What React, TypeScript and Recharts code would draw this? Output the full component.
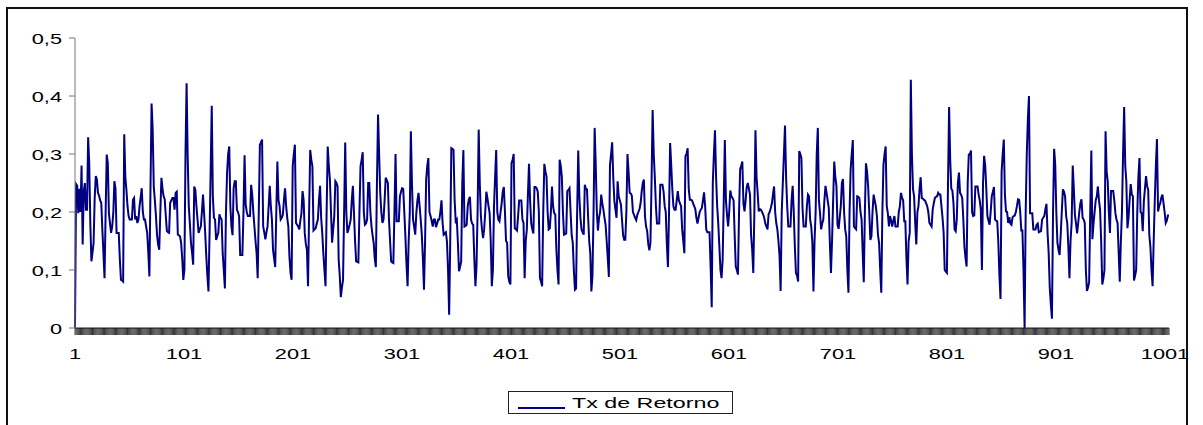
import { LineChart, Line, XAxis, YAxis } from 'recharts'

// Tx de Retorno (1..1001)
const seg0001 = [
  0, 0.248, 0.245, 0.198, 0.24, 0.2, 0.28, 0.144, 0.235, 0.25,
  0.204, 0.204, 0.329, 0.285, 0.181, 0.115, 0.13, 0.147, 0.224, 0.262,
  0.256, 0.233, 0.228, 0.22, 0.216, 0.17, 0.129, 0.086, 0.2, 0.299,
  0.284, 0.198, 0.18, 0.164, 0.175, 0.198, 0.253, 0.241, 0.164, 0.164,
  0.164, 0.118, 0.083, 0.082, 0.08, 0.334, 0.26, 0.238, 0.21, 0.193,
  0.187, 0.187, 0.187, 0.221, 0.224, 0.187, 0.193, 0.181, 0.187, 0.21,
  0.225, 0.241, 0.2, 0.187, 0.187, 0.175, 0.164, 0.13, 0.089, 0.24,
  0.387, 0.342, 0.244, 0.22, 0.193, 0.16, 0.144, 0.135, 0.2, 0.259,
  0.24, 0.227, 0.222, 0.193, 0.167, 0.165, 0.164, 0.216, 0.22, 0.224,
  0.224, 0.204, 0.233, 0.235, 0.161, 0.16, 0.158, 0.147, 0.12, 0.083,
]
const seg0101 = [
  0.1, 0.3, 0.422, 0.296, 0.21, 0.18, 0.147, 0.13, 0.109, 0.244,
  0.238, 0.21, 0.187, 0.164, 0.17, 0.175, 0.2, 0.23, 0.198, 0.164,
  0.124, 0.09, 0.063, 0.164, 0.27, 0.383, 0.227, 0.19, 0.187, 0.152,
  0.158, 0.164, 0.196, 0.19, 0.187, 0.129, 0.1, 0.068, 0.2, 0.267,
  0.3, 0.313, 0.21, 0.175, 0.16, 0.241, 0.253, 0.253, 0.204, 0.2,
  0.193, 0.126, 0.126, 0.126, 0.2, 0.298, 0.213, 0.2, 0.193, 0.193,
  0.193, 0.247, 0.23, 0.2, 0.175, 0.15, 0.129, 0.086, 0.2, 0.316,
  0.32, 0.325, 0.175, 0.165, 0.153, 0.165, 0.175, 0.21, 0.245, 0.21,
  0.187, 0.135, 0.12, 0.105, 0.2, 0.287, 0.221, 0.21, 0.187, 0.19,
  0.195, 0.221, 0.241, 0.21, 0.19, 0.175, 0.124, 0.095, 0.083, 0.279,
]
const seg0201 = [
  0.3, 0.316, 0.181, 0.178, 0.175, 0.17, 0.185, 0.198, 0.236, 0.22,
  0.164, 0.145, 0.135, 0.072, 0.2, 0.307, 0.29, 0.279, 0.168, 0.17,
  0.172, 0.18, 0.187, 0.22, 0.245, 0.19, 0.164, 0.129, 0.1, 0.072,
  0.2, 0.313, 0.28, 0.256, 0.2, 0.147, 0.17, 0.193, 0.253, 0.25,
  0.244, 0.118, 0.09, 0.053, 0.07, 0.083, 0.2, 0.32, 0.2, 0.164,
  0.17, 0.178, 0.187, 0.22, 0.245, 0.198, 0.15, 0.115, 0.114, 0.113,
  0.2, 0.279, 0.29, 0.303, 0.2, 0.178, 0.18, 0.187, 0.25, 0.25,
  0.2, 0.175, 0.16, 0.147, 0.12, 0.105, 0.25, 0.368, 0.3, 0.233,
  0.2, 0.181, 0.187, 0.22, 0.259, 0.255, 0.25, 0.187, 0.15, 0.115,
  0.113, 0.112, 0.2, 0.3, 0.184, 0.184, 0.184, 0.227, 0.235, 0.241,
]
const seg0301 = [
  0.24, 0.2, 0.158, 0.11, 0.072, 0.15, 0.198, 0.339, 0.25, 0.187,
  0.175, 0.161, 0.198, 0.22, 0.233, 0.21, 0.187, 0.161, 0.12, 0.066,
  0.15, 0.256, 0.28, 0.293, 0.2, 0.193, 0.185, 0.175, 0.187, 0.187,
  0.174, 0.18, 0.187, 0.187, 0.2, 0.22, 0.181, 0.161, 0.163, 0.165,
  0.149, 0.1, 0.023, 0.15, 0.31, 0.309, 0.307, 0.22, 0.184, 0.187,
  0.147, 0.098, 0.105, 0.115, 0.25, 0.307, 0.175, 0.176, 0.178, 0.21,
  0.222, 0.226, 0.187, 0.18, 0.178, 0.12, 0.072, 0.106, 0.2, 0.342,
  0.25, 0.193, 0.17, 0.155, 0.17, 0.2, 0.235, 0.224, 0.21, 0.198,
  0.15, 0.072, 0.1, 0.21, 0.26, 0.307, 0.2, 0.187, 0.184, 0.2,
  0.215, 0.235, 0.243, 0.2, 0.15, 0.147, 0.089, 0.08, 0.075, 0.284,
]
const seg0401 = [
  0.29, 0.3, 0.172, 0.17, 0.168, 0.192, 0.22, 0.22, 0.22, 0.187,
  0.181, 0.086, 0.15, 0.17, 0.23, 0.283, 0.22, 0.181, 0.17, 0.163,
  0.243, 0.243, 0.241, 0.235, 0.2, 0.086, 0.08, 0.072, 0.2, 0.283,
  0.27, 0.261, 0.2, 0.17, 0.172, 0.2, 0.244, 0.21, 0.198, 0.196,
  0.136, 0.1, 0.075, 0.29, 0.28, 0.261, 0.2, 0.161, 0.162, 0.163,
  0.236, 0.238, 0.241, 0.2, 0.16, 0.147, 0.1, 0.066, 0.068, 0.2,
  0.306, 0.227, 0.19, 0.17, 0.165, 0.161, 0.247, 0.24, 0.239, 0.193,
  0.15, 0.129, 0.063, 0.09, 0.2, 0.345, 0.28, 0.2, 0.168, 0.19,
  0.2, 0.23, 0.215, 0.204, 0.19, 0.178, 0.15, 0.12, 0.088, 0.28,
  0.3, 0.32, 0.26, 0.22, 0.204, 0.19, 0.253, 0.227, 0.22, 0.213,
]
const seg0501 = [
  0.187, 0.16, 0.152, 0.152, 0.2, 0.3, 0.27, 0.233, 0.232, 0.228,
  0.2, 0.195, 0.19, 0.186, 0.195, 0.2, 0.205, 0.215, 0.235, 0.25,
  0.256, 0.193, 0.175, 0.167, 0.145, 0.134, 0.147, 0.25, 0.376, 0.3,
  0.26, 0.21, 0.18, 0.18, 0.18, 0.247, 0.247, 0.247, 0.235, 0.21,
  0.2, 0.144, 0.105, 0.2, 0.319, 0.28, 0.239, 0.21, 0.204, 0.204,
  0.22, 0.236, 0.22, 0.215, 0.21, 0.17, 0.15, 0.129, 0.296, 0.3,
  0.31, 0.24, 0.221, 0.221, 0.22, 0.215, 0.21, 0.205, 0.19, 0.18,
  0.19, 0.2, 0.204, 0.207, 0.22, 0.234, 0.21, 0.17, 0.165, 0.165,
  0.165, 0.106, 0.036, 0.25, 0.3, 0.341, 0.26, 0.21, 0.18, 0.14,
  0.1, 0.086, 0.118, 0.22, 0.324, 0.22, 0.195, 0.175, 0.2, 0.237,
]
const seg0601 = [
  0.227, 0.224, 0.22, 0.16, 0.106, 0.1, 0.092, 0.2, 0.274, 0.28,
  0.287, 0.215, 0.201, 0.22, 0.243, 0.25, 0.24, 0.23, 0.16, 0.135,
  0.095, 0.2, 0.341, 0.26, 0.233, 0.201, 0.205, 0.204, 0.2, 0.196,
  0.19, 0.18, 0.175, 0.17, 0.196, 0.2, 0.207, 0.215, 0.23, 0.244,
  0.2, 0.181, 0.17, 0.15, 0.124, 0.064, 0.2, 0.25, 0.3, 0.349,
  0.26, 0.21, 0.175, 0.175, 0.175, 0.22, 0.245, 0.2, 0.14, 0.095,
  0.09, 0.08, 0.305, 0.3, 0.293, 0.207, 0.175, 0.175, 0.175, 0.21,
  0.23, 0.227, 0.187, 0.175, 0.147, 0.063, 0.15, 0.2, 0.3, 0.345,
  0.22, 0.198, 0.17, 0.18, 0.187, 0.22, 0.245, 0.233, 0.22, 0.207,
  0.147, 0.095, 0.15, 0.22, 0.287, 0.26, 0.245, 0.178, 0.171, 0.19,
]
const seg0701 = [
  0.21, 0.25, 0.257, 0.2, 0.17, 0.158, 0.1, 0.061, 0.2, 0.274,
  0.3, 0.324, 0.175, 0.172, 0.17, 0.227, 0.226, 0.224, 0.2, 0.187,
  0.13, 0.079, 0.2, 0.284, 0.27, 0.244, 0.2, 0.152, 0.158, 0.2,
  0.23, 0.22, 0.21, 0.193, 0.16, 0.147, 0.1, 0.061, 0.2, 0.282,
  0.3, 0.313, 0.21, 0.198, 0.175, 0.193, 0.185, 0.175, 0.185, 0.193,
  0.175, 0.175, 0.175, 0.2, 0.21, 0.233, 0.225, 0.22, 0.184, 0.184,
  0.12, 0.075, 0.15, 0.164, 0.428, 0.3, 0.24, 0.227, 0.181, 0.144,
  0.2, 0.21, 0.24, 0.26, 0.224, 0.223, 0.221, 0.22, 0.215, 0.21,
  0.2, 0.181, 0.178, 0.175, 0.204, 0.215, 0.224, 0.226, 0.227, 0.233,
  0.23, 0.23, 0.21, 0.19, 0.164, 0.1, 0.097, 0.095, 0.25, 0.381,
]
const seg0801 = [
  0.29, 0.24, 0.237, 0.215, 0.17, 0.167, 0.187, 0.25, 0.268, 0.233,
  0.23, 0.224, 0.187, 0.14, 0.121, 0.106, 0.25, 0.299, 0.3, 0.306,
  0.2, 0.193, 0.194, 0.244, 0.244, 0.244, 0.23, 0.22, 0.204, 0.1,
  0.25, 0.297, 0.28, 0.24, 0.193, 0.185, 0.178, 0.2, 0.227, 0.235,
  0.243, 0.187, 0.185, 0.184, 0.147, 0.09, 0.05, 0.27, 0.3, 0.325,
  0.23, 0.201, 0.2, 0.181, 0.191, 0.18, 0.178, 0.191, 0.193, 0.194,
  0.2, 0.21, 0.222, 0.221, 0.2, 0.168, 0.168, 0.1, 0, 0.2,
  0.3, 0.36, 0.4, 0.198, 0.198, 0.198, 0.17, 0.17, 0.17, 0.178,
  0.18, 0.165, 0.166, 0.167, 0.187, 0.19, 0.193, 0.205, 0.214, 0.164,
  0.13, 0.07, 0.04, 0.016, 0.2, 0.309, 0.282, 0.2, 0.147, 0.135,
]
const seg0901 = [
  0.126, 0.16, 0.2, 0.239, 0.235, 0.227, 0.193, 0.181, 0.14, 0.086,
  0.15, 0.181, 0.28, 0.24, 0.195, 0.18, 0.163, 0.181, 0.2, 0.215,
  0.222, 0.19, 0.187, 0.181, 0.1, 0.064, 0.07, 0.079, 0.2, 0.306,
  0.153, 0.18, 0.2, 0.22, 0.227, 0.244, 0.22, 0.204, 0.15, 0.075,
  0.085, 0.1, 0.339, 0.27, 0.253, 0.2, 0.164, 0.236, 0.236, 0.236,
  0.22, 0.198, 0.187, 0.181, 0.13, 0.08, 0.15, 0.2, 0.3, 0.381,
  0.28, 0.253, 0.172, 0.19, 0.22, 0.248, 0.23, 0.227, 0.082, 0.09,
  0.1, 0.2, 0.26, 0.293, 0.2, 0.198, 0.167, 0.218, 0.24, 0.262,
  0.245, 0.238, 0.16, 0.14, 0.1, 0.072, 0.15, 0.22, 0.28, 0.326,
  0.201, 0.21, 0.215, 0.225, 0.23, 0.215, 0.2, 0.181, 0.185, 0.194,
  0.194,
]

const labelledPoints = [1, 101, 201, 301, 401, 501, 601, 701, 801, 901, 1001]
const yTicks = [0, 0.1, 0.2, 0.3, 0.4, 0.5]
const seriesName = 'Tx de Retorno'

const retorno = [
  ...seg0001, ...seg0101, ...seg0201, ...seg0301, ...seg0401,
  ...seg0501, ...seg0601, ...seg0701, ...seg0801, ...seg0901,
]
const data = retorno.map((v, i) => ({ idx: i + 1, retorno: v }))

const FONT = 'Arial, "Liberation Sans", sans-serif'
const NAVY = '#000080'
// the source picture was stretched sideways, so its text is wide
const STRETCH = 1.45

function XTick(props: any) {
  const { x, y, payload } = props
  const v = Number(payload?.value)
  if (!labelledPoints.includes(v)) return null
  const shift = -((v - 1) / 1000) * 4
  return (
    <text
      transform={`translate(${x + shift},${y + 22}) scale(${STRETCH},1)`}
      textAnchor="middle"
      fill="#000"
      fontSize={15}
      fontFamily={FONT}
    >
      {v}
    </text>
  )
}

const fmtY = (v: number) => (v === 0 ? '0' : v.toFixed(1).replace('.', ','))

function YTick(props: any) {
  const { x, y, payload } = props
  return (
    <text
      transform={`translate(${x},${y + 5.5}) scale(${STRETCH},1)`}
      textAnchor="end"
      fill="#000"
      fontSize={15}
      fontFamily={FONT}
    >
      {fmtY(Number(payload?.value))}
    </text>
  )
}

export default function App() {
  return (
    <div
      style={{
        position: 'absolute',
        left: 0,
        top: 0,
        width: 1203,
        height: 425,
        overflow: 'hidden',
        background: '#fff',
      }}
    >
      <div
        style={{
          position: 'absolute',
          left: 6,
          top: 7,
          width: 1182,
          height: 440,
          boxSizing: 'border-box',
          border: '2px solid #111',
        }}
      />
      <div style={{ position: 'absolute', left: 0, top: 0 }}>
        <LineChart
          width={1203}
          height={425}
          data={data}
          margin={{ top: 38, right: 34, left: 0, bottom: 57 }}
        >
          <XAxis
            dataKey="idx"
            type="category"
            interval={0}
            height={40}
            tickSize={7}
            tick={<XTick />}
            axisLine={{ stroke: '#222' }}
            tickLine={{ stroke: '#000', strokeWidth: 0.8 }}
          />
          <YAxis
            domain={[0, 0.5]}
            ticks={yTicks}
            width={75}
            tickSize={6}
            tickMargin={7}
            tick={<YTick />}
            axisLine={{ stroke: '#777' }}
            tickLine={{ stroke: '#777' }}
          />
          <Line
            type="linear"
            dataKey="retorno"
            name={seriesName}
            stroke={NAVY}
            strokeWidth={2}
            dot={false}
            activeDot={false}
            isAnimationActive={false}
          />
        </LineChart>
      </div>
      <div
        style={{
          position: 'absolute',
          left: 508,
          top: 391,
          width: 225,
          height: 23,
          boxSizing: 'border-box',
          border: '1px solid #222',
          fontFamily: FONT,
          fontSize: 15,
          color: '#000',
        }}
      >
        <div
          style={{
            position: 'absolute',
            left: 9,
            top: 15,
            width: 47,
            height: 1.5,
            background: NAVY,
          }}
        />
        <div
          style={{
            position: 'absolute',
            left: 63,
            top: 2,
            lineHeight: '17px',
            whiteSpace: 'nowrap',
            transform: `scaleX(${STRETCH + 0.1})`,
            transformOrigin: 'left center',
          }}
        >
          {seriesName}
        </div>
      </div>
    </div>
  )
}
